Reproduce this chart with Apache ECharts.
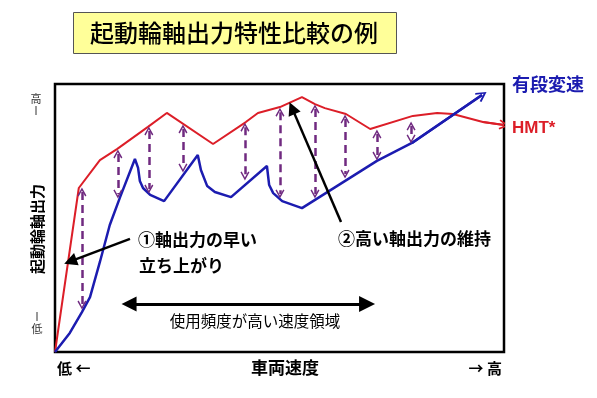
<!DOCTYPE html>
<html>
<head>
<meta charset="utf-8">
<script src="https://cdn.jsdelivr.net/npm/echarts@6/dist/echarts.min.js"></script>
<style>
  html, body { margin: 0; padding: 0; background: #fff; }
  #main { width: 597px; height: 398px; }
</style>
</head>
<body>
<div id="main"></div>
<script>
// axes are unitless: vehicle speed 0-100 (x), drive wheel output 0-100 (y)
const titleText = '起動輪軸出力特性比較の例';
const seriesNames = ['有段変速', 'HMT*'];
const yTickLabels = ['低', '高'];
const xEndLabels = ['低 ←', '→ 高'];
const xTitle = '車両速度';
const yTitle = '起動輪軸出力';
const notes = ['①軸出力の早い', '立ち上がり', '②高い軸出力の維持', '使用頻度が高い速度領域'];

// HMT* curve
const hmtCurve = [
  [0, 0], [5.3, 61.2], [10.0, 71.6], [13.8, 75.7], [20.7, 84.0], [24.9, 89.2],
  [35.2, 77.6], [42.5, 85.8], [45.2, 89.2], [50.1, 91.4], [55.0, 95.1],
  [57.9, 92.5], [60.1, 91.0], [64.8, 88.8], [70.2, 83.2], [79.7, 88.1],
  [85.1, 89.2], [88.6, 88.8], [95.3, 85.8], [100, 84.7]
];

// stepped transmission curve
const stepCurve = [
  [0, 0], [3.3, 7.1], [6.0, 14.9], [7.8, 20.5], [10.0, 33.6], [12.2, 47.4],
  [14.5, 57.8], [17.8, 72.0], [18.5, 68.7], [18.9, 63.8], [19.6, 61.2],
  [21.2, 58.6], [24.3, 56.3], [31.8, 73.5], [32.5, 67.9], [33.9, 61.9],
  [35.6, 59.7], [39.2, 57.8], [47.2, 69.4], [47.7, 62.3], [48.6, 59.3],
  [50.6, 56.3], [55.0, 53.7], [71.7, 71.3], [79.5, 78.0], [95.1, 95.9]
];

// gap arrows: [x, top (HMT), bottom (stepped)]
const gapArrows = [
  [6.0, 61.2, 16.0], [14.0, 75.4, 57.5], [20.9, 84.0, 59.3], [28.5, 84.7, 67.2],
  [42.3, 85.4, 64.2], [50.1, 91.0, 57.5], [57.9, 92.2, 57.5], [64.6, 88.4, 64.9],
  [71.7, 82.8, 71.6], [79.3, 85.8, 78.0]
];

// annotation arrows [from, to]
const note1Arrow = [[16.7, 42.2], [3.4, 33.8]];
const note2Arrow = [[63.7, 48.5], [52.8, 91.0]];
const rangeArrow = [[16.5, 17.9], [69.5, 17.9]];

const RED = '#dc1e28';
const BLUE = '#1c1cb0';
const PURPLE = '#702a80';
const JP = '"Noto Sans CJK JP", sans-serif';
const chevron = 'path://M5,0 L10,9 L8.6,10 L5,3.2 L1.4,10 L0,9 Z';

const chart = echarts.init(document.getElementById('main'), null, { renderer: 'canvas' });

function tail(arr) { return arr.slice(arr.length - 2); }

chart.setOption({
  animation: false,
  backgroundColor: '#fff',
  grid: {
    left: 55, top: 84, right: 93, bottom: 46,
    show: true, borderColor: '#000', borderWidth: 2.5, backgroundColor: 'transparent'
  },
  xAxis: { type: 'value', min: 0, max: 100, show: false },
  yAxis: { type: 'value', min: 0, max: 100, show: false },
  series: [
    {
      name: seriesNames[1], type: 'line', data: hmtCurve, symbol: 'none',
      lineStyle: { color: RED, width: 2 }, z: 3
    },
    {
      name: seriesNames[0], type: 'line', data: stepCurve, symbol: 'none',
      lineStyle: { color: BLUE, width: 2.5 }, z: 4
    },
    {
      type: 'lines', coordinateSystem: 'cartesian2d', z: 3,
      symbol: ['none', chevron], symbolSize: [10, 10],
      lineStyle: { color: RED, width: 2, opacity: 1 },
      data: [{ coords: tail(hmtCurve) }]
    },
    {
      type: 'lines', coordinateSystem: 'cartesian2d', z: 4,
      symbol: ['none', chevron], symbolSize: [12, 11],
      lineStyle: { color: BLUE, width: 2.5, opacity: 1 },
      data: [{ coords: tail(stepCurve) }]
    },
    {
      type: 'lines', coordinateSystem: 'cartesian2d', z: 5,
      symbol: [chevron, chevron], symbolSize: [9, 9],
      lineStyle: { color: PURPLE, width: 2.5, type: [8, 5], opacity: 1 },
      data: gapArrows.map(a => ({ coords: [[a[0], a[1] - 1.5], [a[0], a[2] + 1.5]] }))
    },
    {
      type: 'lines', coordinateSystem: 'cartesian2d', z: 6,
      symbol: ['none', 'triangle'], symbolSize: [11, 13],
      lineStyle: { color: '#000', width: 2.5, opacity: 1 },
      data: [{ coords: note1Arrow }, { coords: note2Arrow }]
    },
    {
      type: 'lines', coordinateSystem: 'cartesian2d', z: 6,
      symbol: ['triangle', 'triangle'], symbolSize: [15, 16],
      lineStyle: { color: '#000', width: 3, opacity: 1 },
      data: [{ coords: rangeArrow }]
    }
  ],
  graphic: [
    {
      type: 'rect', left: 73, top: 12, z: 10,
      shape: { width: 323, height: 41 },
      style: { fill: '#ffff99', stroke: '#555', lineWidth: 1 }
    },
    {
      type: 'text', x: 234, y: 33, z: 11,
      style: { text: titleText, font: '500 24px ' + JP, fill: '#000', align: 'center', verticalAlign: 'middle' }
    },
    {
      type: 'text', x: 512, y: 84, z: 11,
      style: { text: seriesNames[0], font: 'bold 18px ' + JP, fill: BLUE, align: 'left', verticalAlign: 'middle' }
    },
    {
      type: 'text', x: 512, y: 128, z: 11,
      style: { text: seriesNames[1], font: 'bold 17px "Liberation Sans", Arial, sans-serif', fill: RED, align: 'left', verticalAlign: 'middle' }
    },
    {
      type: 'text', x: 37, y: 229, rotation: Math.PI / 2, z: 11,
      style: { text: yTitle, font: 'bold 15px ' + JP, fill: '#000', align: 'center', verticalAlign: 'middle' }
    },
    {
      type: 'text', x: 36, y: 99, z: 11,
      style: { text: yTickLabels[1], font: '11px ' + JP, fill: '#333', align: 'center', verticalAlign: 'middle' }
    },
    { type: 'line', z: 11, shape: { x1: 36, y1: 106, x2: 36, y2: 115 }, style: { stroke: '#333', lineWidth: 1 } },
    {
      type: 'text', x: 37, y: 329, z: 11,
      style: { text: yTickLabels[0], font: '11px ' + JP, fill: '#333', align: 'center', verticalAlign: 'middle' }
    },
    { type: 'line', z: 11, shape: { x1: 37, y1: 312, x2: 37, y2: 321 }, style: { stroke: '#333', lineWidth: 1 } },
    {
      type: 'text', x: 57, y: 368, z: 11,
      style: { text: xEndLabels[0], font: 'bold 15px ' + JP, fill: '#000', align: 'left', verticalAlign: 'middle' }
    },
    {
      type: 'text', x: 502, y: 368, z: 11,
      style: { text: xEndLabels[1], font: 'bold 15px ' + JP, fill: '#000', align: 'right', verticalAlign: 'middle' }
    },
    {
      type: 'text', x: 285, y: 368, z: 11,
      style: { text: xTitle, font: 'bold 17px ' + JP, fill: '#000', align: 'center', verticalAlign: 'middle' }
    },
    {
      type: 'text', x: 138, y: 240, z: 11,
      style: { text: notes[0], font: 'bold 17px ' + JP, fill: '#000', align: 'left', verticalAlign: 'middle' }
    },
    {
      type: 'text', x: 139, y: 266, z: 11,
      style: { text: notes[1], font: 'bold 17px ' + JP, fill: '#000', align: 'left', verticalAlign: 'middle' }
    },
    {
      type: 'text', x: 338, y: 239, z: 11,
      style: { text: notes[2], font: 'bold 17px ' + JP, fill: '#000', align: 'left', verticalAlign: 'middle' }
    },
    {
      type: 'text', x: 255, y: 321, z: 11,
      style: { text: notes[3], font: '15.5px ' + JP, fill: '#000', align: 'center', verticalAlign: 'middle' }
    }
  ]
});
</script>
</body>
</html>
